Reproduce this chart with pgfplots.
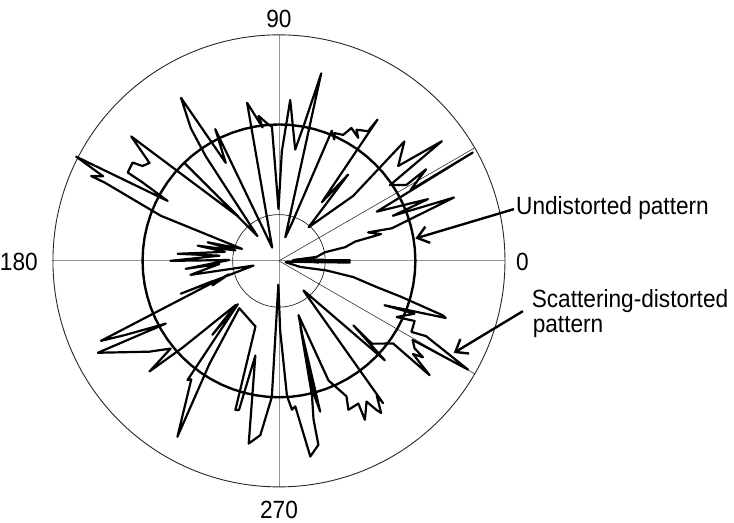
\documentclass[border=0pt]{standalone}
\usepackage{fontspec}
\setmainfont{Liberation Sans}[FakeStretch=0.91]
\usepackage{pgfplots}
\pgfplotsset{compat=1.18}
\usetikzlibrary{arrows.meta}
\begin{document}
\begin{tikzpicture}
\begin{axis}[
  scale only axis, width=454bp, height=454bp,
  xmin=-227, xmax=227, ymin=-227, ymax=227,
  enlargelimits=false, hide axis, clip=false,
]
% bounding box of the figure
\path (axis cs:-277,-263) rectangle (axis cs:457,262);
% grid
\addplot[gray!85, line width=0.9bp] coordinates {(-227,0) (227,0)};
\addplot[gray!85, line width=0.9bp] coordinates {(0,-227) (0,227)};
\addplot[black!80, line width=0.6bp, data cs=polar] coordinates {(0,0) (30,227)};
\addplot[black!80, line width=0.6bp, data cs=polar] coordinates {(0,0) (-30,227)};
\draw[black!85, line width=0.9bp] (axis cs:0,0) circle [radius=227bp];
\draw[black!85, line width=0.7bp] (axis cs:0,0) circle [radius=46.5bp];
% undistorted pattern
\addplot[black, line width=2.4bp, data cs=polar] coordinates {
(0,137) (5,137) (10,137) (15,137) (20,137) (25,137) (30,137) (35,137) (40,137) (45,137)
(50,137) (55,137) (60,137) (65,137) (70,137) (75,137) (80,137) (85,137) (90,137) (95,137)
(100,137) (105,137) (110,137) (115,137) (120,137) (125,137) (130,137) (135,137) (140,137) (145,137)
(150,137) (155,137) (160,137) (165,137) (170,137) (175,137) (180,137) (185,137) (190,137) (195,137)
(200,137) (205,137) (210,137) (215,137) (220,137) (225,137) (230,137) (235,137) (240,137) (245,137)
(250,137) (255,137) (260,137) (265,137) (270,137) (275,137) (280,137) (285,137) (290,137) (295,137)
(300,137) (305,137) (310,137) (315,137) (320,137) (325,137) (330,137) (335,137) (340,137) (345,137)
(350,137) (355,137) (360,137)};
% scattering-distorted pattern
\addplot[black, line width=2.2bp, line join=round, data cs=polar] coordinates {
(350,6) (356,12) (358.6,71) (0.6,71) (3,14) (357.5,40) (2.2,30) (357,22) (1.5,45)
(4,16) (6,38) (10.6,47) (11.7,68)
(14.2,79) (14.7,106) (17.7,94) (16.1,118) (19.9,187) (21.6,123) (22.5,162) (26.7,110)
(29.2,223) (28.3,150) (31.9,174) (30.8,149) (34.3,135) (36.3,203) (38.5,153) (43.6,174)
(41.2,99) (48.6,45) (51.3,111) (53.8,73) (55.1,173) (55.5,158) (59.4,153) (57.2,147)
(61.4,152) (63,142) (66.4,140) (65.5,134) (67.9,141) (71,40) (75,24.5) (77.3,193)
(79.5,140) (81.7,113) (86,162) (88.5,110) (90.5,52) (93,135) (94.3,137) (98,147) (97,135)
(101.4,162) (117,15) (115.8,147) (118.5,112) (121,191) (123.6,160) (125,128) (131,33)
(134,137) (132.5,60) (139.9,194) (142.9,163) (145.2,167) (146.1,177) (149.7,176)
(150.1,158) (151.7,127) (152.8,229) (154.3,196) (155.7,207) (155.8,192) (159.1,127)
(162,39) (165.4,74) (166.5,45) (169.4,83) (170.5,55) (176,102) (175,60) (180,109) (179,50)
(184.9,94) (183,60) (189,90) (190.5,26) (198.5,104) (197,70) (200.2,71) (195,52)
(204.2,196) (205.7,172) (209,130) (206.9,204) (215,159) (219,140) (220.5,171) (222,130)
(225.6,62) (228,100) (226.5,60) (232.5,151) (233.5,148) (240,204) (236,125) (230,62)
(250.3,70) (253.7,156) (255,155) (256,98) (260.6,186) (263.9,176) (267,137) (268.5,24)
(271,70) (273.4,136) (275,150) (276.4,147) (279.1,199) (282.1,189) (282.3,163) (283.8,139)
(288,70) (285.3,157) (284.6,137) (289.8,58) (292.5,130) (296.5,152) (295,165) (299.1,164)
(298.4,181.5) (301.9,166.5) (303.2,179) (303.9,184) (306,167) (306.2,177) (308.9,44.6)
(309.7,38.6) (316.8,146) (319.1,99) (318.3,125) (324.1,141.6) (322.8,190) (325.2,164)
(326.2,174) (327.2,162) (329.4,156) (330.1,219) (332.9,166) (331.8,151) (336.1,149)
(334.5,131) (338.7,146) (337.2,115) (341.1,177) (341.6,173.5) (343.6,128) (345,101.5)
(347.7,76.5) (348.6,49) (344,22) (350,6)};
% labels
\begin{scope}[every node/.style={inner sep=0pt, font=\fontsize{25.1}{22}\selectfont}]
\node[anchor=base] at (axis cs:0,234.7) {90};
\node[anchor=base east] at (axis cs:-242,-9.7) {180};
\node[anchor=base west] at (axis cs:238,-9.7) {0};
\node[anchor=base] at (axis cs:0,-258.3) {270};
\node[anchor=base west] at (axis cs:238,47) {Undistorted pattern};
\node[anchor=base west] at (axis cs:253.7,-47.2) {Scattering-distorted};
\node[anchor=base west] at (axis cs:254.7,-72.2) {pattern};
\end{scope}
\draw[line width=2.4bp, -{Straight Barb[length=11bp,width=17bp,line width=2.4bp]}]
  (axis cs:236,52) -- (axis cs:137,22.5);
\draw[line width=2.4bp, -{Straight Barb[length=11bp,width=17bp,line width=2.4bp]}]
  (axis cs:245,-50.5) -- (axis cs:175.5,-92.5);
\end{axis}
\end{tikzpicture}
\end{document}
